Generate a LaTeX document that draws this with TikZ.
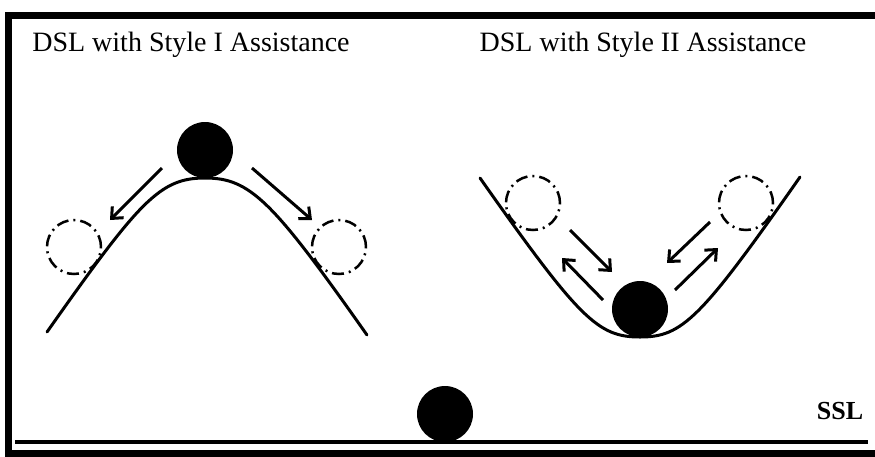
\documentclass[tikz,border=0pt]{standalone}
\usepackage{fontspec}
\setmainfont{Liberation Serif}
\usetikzlibrary{arrows.meta}
\tikzset{
  ball/.style={circle,fill=black,minimum size=56pt,inner sep=0pt},
  ghost/.style={circle,draw=black,line width=2.5pt,minimum size=54pt,inner sep=0pt,
    dash pattern=on 12pt off 5pt on 2pt off 5pt},
  track/.style={line width=3pt,line cap=round},
  move/.style={line width=3pt,-{Straight Barb[length=9pt,width=16pt,line width=3pt]}},
  title/.style={font=\fontsize{28}{30}\selectfont,inner sep=0pt}
}
\begin{document}
\begin{tikzpicture}[x=1pt,y=-1pt]
\useasboundingbox (0,0) rectangle (875,456);
\begin{scope}
\clip (0,0) rectangle (875,456);
\draw[line width=7pt] (8,15) rectangle (890,453);
\end{scope}
% titles
\node[title] (t1) at (191,45) {DSL with Style I Assistance};
\node[title] (t2) at (643,45) {DSL with Style II Assistance};
% left hill
\draw[track] (47,332) .. controls (140,200) and (160,178) .. (205,178)
  .. controls (250,178) and (272,200) .. (367,335);
\node[ball] (b1) at (205,150) {};
\node[ghost] (g1) at (74,247) {};
\node[ghost] (g2) at (339,247) {};
\coordinate (a1s) at (162,168); \coordinate (a1e) at (110,220);
\coordinate (a2s) at (252,168); \coordinate (a2e) at (312,220);
\draw[move] (a1s) -- (a1e);
\draw[move] (a2s) -- (a2e);
% right valley
\draw[track] (480,178) .. controls (580,320) and (598,337) .. (640,337)
  .. controls (682,337) and (700,320) .. (800,177);
\node[ball] (b2) at (640,309) {};
\node[ghost] (g3) at (533,203) {};
\node[ghost] (g4) at (746,203) {};
\coordinate (a3s) at (570,230); \coordinate (a3e) at (612,272);
\coordinate (a4s) at (603,300); \coordinate (a4e) at (562,258);
\coordinate (a5s) at (710,222); \coordinate (a5e) at (667,263);
\coordinate (a6s) at (675,290); \coordinate (a6e) at (718,248);
\draw[move] (a3s) -- (a3e);
\draw[move] (a4s) -- (a4e);
\draw[move] (a5s) -- (a5e);
\draw[move] (a6s) -- (a6e);
% ground
\coordinate (gl) at (15,442); \coordinate (gr) at (868,442);
\draw[line width=4pt] (gl) -- (gr);
\node[ball] (b3) at (445,414) {};
\node[font=\fontsize{26}{28}\selectfont\bfseries,inner sep=0pt] (ssl) at (840,411) {SSL};
\end{tikzpicture}
\end{document}
